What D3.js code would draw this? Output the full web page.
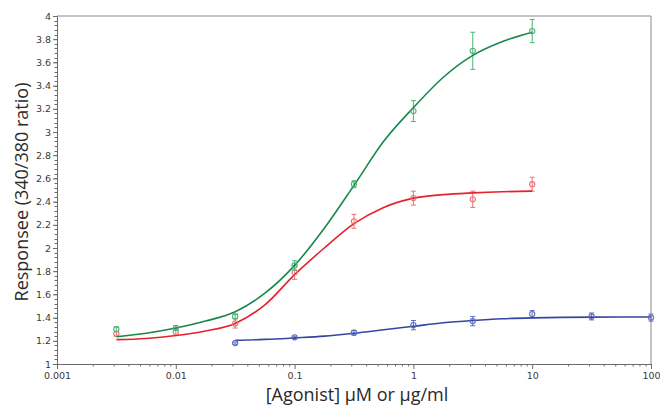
<!DOCTYPE html>
<html><head><meta charset="utf-8">
<script src="https://cdn.jsdelivr.net/npm/d3@7/dist/d3.min.js"></script>
<style>body{margin:0;background:#fff}svg{display:block}</style>
</head><body><svg id="c" width="660" height="407"></svg>
<script>
// Measured doses (µM or µg/ml)
const dosesGR = [0.00316, 0.01, 0.0316, 0.1, 0.316, 1, 3.16, 10];
const dosesBlue = [0.0316, 0.1, 0.316, 1, 3.16, 10, 31.6, 100];
// Mean responses
const greenVals = [1.30, 1.31, 1.41, 1.85, 2.55, 3.18, 3.70, 3.87];
const greenErr  = [0.02, 0.02, 0.02, 0.04, 0.03, 0.09, 0.16, 0.10];
const redVals   = [1.26, 1.275, 1.35, 1.79, 2.23, 2.43, 2.42, 2.55];
const redErr    = [0.02, 0.03, 0.04, 0.06, 0.06, 0.06, 0.07, 0.06];
const blueVals  = [1.18, 1.23, 1.27, 1.335, 1.37, 1.43, 1.41, 1.40];
const blueErr   = [0.01, 0.01, 0.02, 0.04, 0.04, 0.03, 0.03, 0.03];
// Fitted curves (log10 dose, response)
const curveLogGR = [-2.5,-2.25,-2,-1.75,-1.5,-1.25,-1,-0.75,-0.5,-0.25,0,0.25,0.5,0.75,1];
const greenCurve = [1.235,1.265,1.31,1.37,1.45,1.61,1.85,2.17,2.54,2.92,3.21,3.47,3.66,3.78,3.86];
const redCurve   = [1.21,1.22,1.245,1.285,1.35,1.51,1.77,2.00,2.21,2.35,2.43,2.46,2.475,2.485,2.49];
const curveLogBlue = [-1.5,-1.25,-1,-0.75,-0.5,-0.25,0,0.25,0.5,0.75,1,1.25,1.5,1.75,2];
const blueCurve  = [1.205,1.212,1.225,1.24,1.265,1.295,1.325,1.355,1.375,1.39,1.398,1.402,1.404,1.405,1.405];
const xTickVals = [0.001, 0.01, 0.1, 1, 10, 100];
const xTickLabels = ["0.001","0.01","0.1","1","10","100"];
const yTickVals = [1,1.2,1.4,1.6,1.8,2,2.2,2.4,2.6,2.8,3,3.2,3.4,3.6,3.8,4];

const svg = d3.select("#c");
const L=57, R=651, T=16, B=364;
const x = d3.scaleLog().domain([0.001,100]).range([L,R]);
const y = d3.scaleLinear().domain([1,4]).range([B,T]);
const axisCol = "#6b6b6b";
const font = "'DejaVu Sans', sans-serif";

// frame (top & right)
svg.append("path").attr("d",`M${L},${T}H${R}V${B}`).attr("fill","none").attr("stroke","#8a8a8a").attr("stroke-width",1);

// minor ticks
const minorX = [];
for (let e=-3;e<2;e++) for (let k=2;k<10;k++) minorX.push(k*Math.pow(10,e));
svg.append("g").selectAll("line").data(minorX).join("line")
  .attr("x1",d=>x(d)+0.5).attr("x2",d=>x(d)+0.5).attr("y1",B).attr("y2",B+2.5)
  .attr("stroke",axisCol).attr("stroke-width",1);
const minorY = d3.range(1,4.0001,0.04);
svg.append("g").selectAll("line").data(minorY).join("line")
  .attr("x1",L-2.5).attr("x2",L).attr("y1",d=>Math.round(y(d))+0.5).attr("y2",d=>Math.round(y(d))+0.5)
  .attr("stroke",axisCol).attr("stroke-width",1);

const xAxis = d3.axisBottom(x).tickValues(xTickVals).tickFormat((d,i)=>xTickLabels[i]).tickSize(5).tickPadding(3);
const gx = svg.append("g").attr("transform",`translate(0,${B})`).call(xAxis);
gx.select(".domain").attr("stroke",axisCol);
gx.selectAll(".tick line").attr("stroke",axisCol);
gx.selectAll("text").attr("font-family",font).attr("font-size",9.5).attr("fill","#3a3a3a");

const yAxis = d3.axisLeft(y).tickValues(yTickVals).tickFormat(d3.format("~g")).tickSize(4).tickPadding(2);
const gy = svg.append("g").attr("transform",`translate(${L},0)`).call(yAxis);
gy.select(".domain").attr("stroke",axisCol);
gy.selectAll(".tick line").attr("stroke",axisCol);
gy.selectAll("text").attr("font-family",font).attr("font-size",9.5).attr("fill","#3a3a3a");

// titles
svg.append("text").attr("x",357).attr("y",401).attr("text-anchor","middle")
  .attr("font-family","'Open Sans', sans-serif").attr("font-size",18).attr("fill","#2a2a2a")
  .text("[Agonist] μM or μg/ml");
svg.append("text").attr("transform","translate(28,192) rotate(-90)").attr("text-anchor","middle")
  .attr("font-family","'Open Sans', sans-serif").attr("font-size",18).attr("fill","#2a2a2a")
  .text("Responsee (340/380 ratio)");

const line = d3.line().x(d=>x(Math.pow(10,d[0]))).y(d=>y(d[1])).curve(d3.curveMonotoneX);

const series = [
  {doses:dosesGR, vals:redVals, err:redErr, cl:curveLogGR, cv:redCurve, line:"#e3222c", mark:"#ec6f76"},
  {doses:dosesBlue, vals:blueVals, err:blueErr, cl:curveLogBlue, cv:blueCurve, line:"#3545a3", mark:"#5d6dc4"},
  {doses:dosesGR, vals:greenVals, err:greenErr, cl:curveLogGR, cv:greenCurve, line:"#18884a", mark:"#4fb377"},
];
series.forEach(s=>{
  const g = svg.append("g");
  const pts = s.doses.map((d,i)=>({d, v:s.vals[i], e:s.err[i]}));
  g.selectAll(".eb").data(pts).join("path")
    .attr("d",p=>{const xx=x(p.d), y1=y(p.v+p.e), y2=y(p.v-p.e);
      return `M${xx},${y1}V${y2}M${xx-2.5},${y1}H${xx+2.5}M${xx-2.5},${y2}H${xx+2.5}`;})
    .attr("fill","none").attr("stroke",s.mark).attr("stroke-width",1);
  g.append("path").datum(s.cl.map((l,i)=>[l,s.cv[i]])).attr("d",line)
    .attr("fill","none").attr("stroke",s.line).attr("stroke-width",1.6);
  g.selectAll("circle").data(pts).join("circle")
    .attr("cx",p=>x(p.d)).attr("cy",p=>y(p.v)).attr("r",2.6)
    .attr("fill","none").attr("stroke",s.mark).attr("stroke-width",1.1);
});
</script></body></html>
